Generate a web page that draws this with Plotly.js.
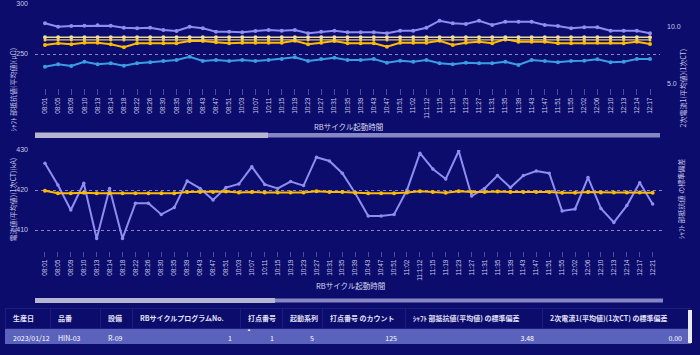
<!DOCTYPE html>
<html><head><meta charset="utf-8">
<script src="https://cdn.plot.ly/plotly-3.0.1.min.js"></script>
<style>html,body{margin:0;padding:0;background:#0c0c6c;}#chart{width:700px;height:355px;}</style>
</head><body><div id="chart"></div>
<script>
// ---- data ----
const topTimes = ["08:01","08:05","08:09","08:10","08:13","08:14","08:18","08:22","08:26","08:30","08:35","08:39","08:43","08:47","08:51","10:03","10:07","10:11","10:15","10:19","10:23","10:27","10:31","10:35","10:39","10:43","10:47","10:51","11:02","11:1:12","11:15","11:19","11:23","11:27","11:31","11:35","11:39","11:43","11:47","11:51","11:55","12:02","12:06","12:10","12:13","12:14","12:17"];
const botTimes = ["08:01","08:05","08:09","08:10","08:13","08:14","08:18","08:22","08:26","08:30","08:35","08:39","08:43","08:47","08:51","10:03","10:07","10:11","10:15","10:19","10:23","10:27","10:31","10:35","10:39","10:43","10:47","10:51","11:02","11:1:12","11:15","11:19","11:23","11:27","11:31","11:35","11:39","11:43","11:47","11:51","11:55","12:02","12:06","12:10","12:13","12:14","12:17","12:21"];

const topUpper = [280.7,277.3,278,278.3,278.7,278.3,276.3,275.7,276.3,274,273,277.3,275.7,272.3,272.3,271.7,273,274,273.3,274,270.7,272.3,273.3,271.7,271.7,271.7,270.7,273.3,273.3,276.3,283.3,280.7,280,283.3,279,282.3,282.3,282.3,279,278,275.7,276.7,276.7,273.3,273.3,273.3,270.7];
const topMean = [259,260.7,259.7,261.3,261.3,259.7,256.7,260.7,260.7,260.7,260.7,263,263,261.7,260.7,261.3,261.3,261.3,261.3,263.3,259.7,261.3,263,260.7,260.7,260.7,257.3,261.3,261.3,261.3,263.3,259,261.3,262.3,260.7,264.7,262.3,262.3,262.3,260.7,260.7,261.3,261.3,261.3,260.7,262.3,260];
const topLower = [237.3,239.7,238,242.3,239.7,240.7,238.3,240.7,241.7,243,244,247.3,243,244,243,244,243,244,245,246.7,243,245,246.3,244,244,245,241.3,243.3,242.3,244,240.7,239.7,241.3,240.7,240.7,242.3,239,244,243,241.7,243,243.3,244.7,241.7,242.3,245,245];
const currentA = [9.1,9.1,9.1,9.1,9.1,9.1,9.1,9.1,9.1,9.1,9.1,9.1,9.1,9.1,9.1,9.1,9.1,9.1,9.1,9.1,9.1,9.1,9.1,9.1,9.1,9.1,9.1,9.1,9.1,9.1,9.1,9.1,9.1,9.1,9.1,9.1,9.1,9.1,9.1,9.1,9.1,9.1,9.1,9.1,9.1,9.1,9.1];
const currentB = [8.87,8.87,8.87,8.87,8.87,8.87,8.87,8.87,8.87,8.87,8.87,8.87,8.87,8.87,8.87,8.87,8.87,8.87,8.87,8.87,8.87,8.87,8.87,8.87,8.87,8.87,8.87,8.87,8.87,8.87,8.87,8.87,8.87,8.87,8.87,8.87,8.87,8.87,8.87,8.87,8.87,8.87,8.87,8.87,8.87,8.87,8.87];

const botValue = [426.7,421.25,415,421.7,407.9,420.4,407.9,416.7,416.7,413.9,415.6,422.25,420.4,417.5,420.6,421.5,425.8,421.4,420.4,422.1,421.1,428.2,427.25,424.2,419.2,413.5,413.5,413.9,420,429.2,425.25,422.75,429.75,418.5,420.4,423.6,420.6,423.6,424.75,424.2,414.75,415.25,423.1,415.4,411.9,416.1,421.8,416.5];
const botMean = [419.8,419.2,419.2,419.3,419.2,419.2,419.2,419.2,419.2,419.2,419.2,419.5,419.5,419.5,419.6,419.4,419.5,419.4,419.4,419.4,419.4,419.7,419.5,419.5,419.3,419.2,419.2,419.2,419.4,419.7,419.5,419.3,419.7,419.5,419.5,419.6,419.5,419.5,419.5,419.5,419.3,419.3,419.5,419.4,419.4,419.4,419.4,419.3];

const tableHeader = ["生産日","品番","設備","RBサイクルプログラムNo.","打点番号","起動系列","打点番号\u00a0のカウント","ｼｬﾌﾄ\u00a0部抵抗値(平均値)\u00a0の標準偏差","2次電流1(平均値)(1次CT)\u00a0の標準偏差"];
const tableRow = [["2023/01/12"],["HIN-03"],["R-09"],[1],[1],[5],[125],["3.48"],["0.00"]];

// ---- helpers ----
const W = 700, H = 355;
const px = x => x / W, py = y => 1 - y / H;
const BG = '#0c0c6c';
const TICK = '#c8c8e6';
const FONT = 'Liberation Sans, Noto Sans CJK JP, sans-serif';
const JP = 'Noto Sans CJK JP, sans-serif';

const lav = '#8e8ef2', gold = '#ffbb00', pale = '#e9dca6', amber = '#f2c84a', cyan = '#3a9ee0';

const traces = [
  {x: topTimes, y: topUpper, xaxis:'x', yaxis:'y', mode:'lines+markers', line:{color:lav, width:2}, marker:{size:4, color:lav}},
  {x: topTimes, y: currentA, xaxis:'x', yaxis:'y2', mode:'lines+markers', line:{color:pale, width:1.5}, marker:{size:4, color:pale}},
  {x: topTimes, y: currentB, xaxis:'x', yaxis:'y2', mode:'lines+markers', line:{color:amber, width:1.2}, marker:{size:3, color:amber}},
  {x: topTimes, y: topMean, xaxis:'x', yaxis:'y', mode:'lines+markers', line:{color:gold, width:2}, marker:{size:4, color:gold}},
  {x: topTimes, y: topLower, xaxis:'x', yaxis:'y', mode:'lines+markers', line:{color:cyan, width:2}, marker:{size:4, color:cyan}},
  {x: botTimes, y: botValue, xaxis:'x2', yaxis:'y3', mode:'lines+markers', line:{color:lav, width:2}, marker:{size:3.5, color:lav}},
  {x: botTimes, y: botMean, xaxis:'x2', yaxis:'y3', mode:'lines+markers', line:{color:gold, width:2}, marker:{size:4, color:gold}},
  {type:'table', domain:{x:[px(5), px(690)], y:[py(346), py(308)]},
   columnwidth:[45,50,32,108,42,40,83,137,148],
   header:{values: tableHeader, align:'left', height:20,
     fill:{color:BG}, line:{color:'#1c1c82', width:1},
     font:{family:JP, size:7, color:'#e2e2f6', weight:'bold'}},
   cells:{values: tableRow, align:['left','left','left','right','right','right','right','right','right'], height:15,
     fill:{color:'#5a62bc'}, line:{color:'#5a62bc', width:1},
     font:{family:JP, size:7, color:'#ffffff'}}}
];

const xcommon = {type:'category', tickangle:-90, ticks:'outside', tickcolor:'rgba(130,130,200,0.55)', tickwidth:1,
  tickfont:{family:FONT, size:6.5, color:TICK}, showgrid:false, zeroline:false, showline:false, fixedrange:true};
const ycommon = {showgrid:true, gridcolor:'rgba(175,175,215,0.75)', griddash:'dot', gridwidth:1, zeroline:false, showline:false,
  ticks:'', ticklabelstandoff:6, tickfont:{family:FONT, size:7, color:TICK}, fixedrange:true};
const yright = {showgrid:false, zeroline:false, showline:false, ticks:'', ticklabelstandoff:6,
  tickfont:{family:FONT, size:7, color:TICK}, fixedrange:true};

const titleFont = {family:JP, size:7, color:TICK};
const annotations = [
  {text:'ｼｬﾌﾄ 部抵抗値(平均値)(μΩ)', x:px(5.5), y:py(46), xref:'paper', yref:'paper', textangle:-90, showarrow:false, font:titleFont},
  {text:'2次電流1(平均値)(1次CT)', x:px(689), y:py(47), xref:'paper', yref:'paper', textangle:-90, showarrow:false, font:titleFont},
  {text:'電流値(平均値)(1次CT)(kA)', x:px(5.5), y:py(200), xref:'paper', yref:'paper', textangle:-90, showarrow:false, font:titleFont},
  {text:'ｼｬﾌﾄ 部抵抗値 の標準偏差', x:px(688), y:py(199), xref:'paper', yref:'paper', textangle:-90, showarrow:false, font:titleFont},
  {text:'RBサイクル起動時間', x:px(348), y:py(127), xref:'paper', yref:'paper', showarrow:false, font:{family:JP, size:7.5, color:'#d8d8ee'}},
  {text:'RBサイクル起動時間', x:px(350), y:py(293), xref:'paper', yref:'paper', showarrow:false, font:{family:JP, size:7.5, color:'#d8d8ee'}},
  {text:'▲', x:px(249), y:py(325.5), xref:'paper', yref:'paper', yanchor:'top', showarrow:false, borderpad:0, font:{size:4, color:'#ffffff'}}
];

const rect = (x0,x1,y0,y1,c) => ({type:'rect', xref:'paper', yref:'paper', x0:px(x0), x1:px(x1), y0:py(y1), y1:py(y0), fillcolor:c, line:{width:0}, layer:'above'});
const shapes = [
  rect(35,660,133,137.5,'#8686c4'),
  rect(35,268,132.5,138,'#b6b6d2'),
  rect(35,663,298.5,302.5,'#8686c4'),
  rect(35,275,298,303,'#b6b6d2'),
  rect(688,692,310,343,'#ececf4')
];

const layout = {
  width: W, height: H, margin:{l:0,r:0,t:0,b:0},
  paper_bgcolor: BG, plot_bgcolor: BG, showlegend:false,
  xaxis: Object.assign({}, xcommon, {domain:[px(35), px(660)], anchor:'y', range:[-0.76, 46.76], ticklen:6}),
  yaxis: Object.assign({}, ycommon, {domain:[py(88), py(4)], anchor:'x', range:[216, 300], tickvals:[250,300]}),
  yaxis2: Object.assign({}, yright, {overlaying:'y', side:'right', anchor:'x', range:[4.65, 12.02], tickvals:[5,10], tickformat:'.1f'}),
  xaxis2: Object.assign({}, xcommon, {domain:[px(35), px(663)], anchor:'y3', range:[-0.77, 47.8], ticklen:5}),
  yaxis3: Object.assign({}, ycommon, {domain:[py(251), py(150)], anchor:'x2', range:[404.75, 430], tickvals:[410,420,430]}),
  yaxis4: Object.assign({}, yright, {overlaying:'y3', side:'right', anchor:'x2', range:[0, 100], tickvals:[0,50,100]}),
  annotations, shapes
};

Plotly.newPlot('chart', traces, layout, {staticPlot:true, displayModeBar:false});
</script></body></html>
